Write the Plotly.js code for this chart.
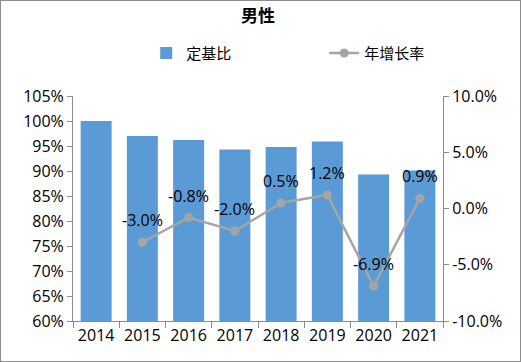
<!DOCTYPE html>
<html>
<head>
<meta charset="utf-8">
<script src="https://cdn.plot.ly/plotly-3.0.1.min.js"></script>
<style>
  html, body { margin: 0; padding: 0; background: #fff; }
  #wrap { position: relative; width: 521px; height: 362px; }
  #chart { width: 521px; height: 362px; }
  #frame { position: absolute; left: 0; top: 0; width: 521px; height: 362px; box-sizing: border-box; border: 1px solid #8c8c8c; pointer-events: none; }
</style>
</head>
<body>
<div id="wrap"><div id="chart"></div><div id="frame"></div></div>
<script>
const years = ['2014', '2015', '2016', '2017', '2018', '2019', '2020', '2021'];
const fixedBaseRatio = [1.000, 0.970, 0.962, 0.943, 0.948, 0.959, 0.893, 0.901];
const growthYears = ['2015', '2016', '2017', '2018', '2019', '2020', '2021'];
const growthRate = [-0.030, -0.008, -0.020, 0.005, 0.012, -0.069, 0.009];
const seriesNames = ['定基比', '年增长率'];
const chartTitle = '男性';
const leftTicks = [0.60, 0.65, 0.70, 0.75, 0.80, 0.85, 0.90, 0.95, 1.00, 1.05];
const rightTicks = [-0.10, -0.05, 0.00, 0.05, 0.10];

const fontFam = '"Open Sans", "Noto Sans CJK SC", sans-serif';
const pct1 = v => (v * 100).toFixed(1) + '%';

const traces = [
  {
    type: 'bar', name: seriesNames[0], x: years, y: fixedBaseRatio,
    marker: { color: '#5B9BD5' }, hoverinfo: 'skip'
  },
  {
    type: 'scatter', mode: 'lines+markers', name: seriesNames[1],
    x: growthYears, y: growthRate, yaxis: 'y2',
    line: { color: '#A5A5A5', width: 2.5 },
    marker: { color: '#A5A5A5', size: 9 },
    cliponaxis: false, hoverinfo: 'skip'
  }
];

const annotations = growthYears.map((yr, i) => ({
  x: years.indexOf(yr), y: growthRate[i], xref: 'x', yref: 'y2',
  text: pct1(growthRate[i]), showarrow: false, yshift: 22,
  font: { family: fontFam, size: 16, color: '#000' }
}));

const axisCol = '#8c8c8c';
const layout = {
  width: 521, height: 362,
  margin: { l: 73, r: 78, t: 96, b: 41 },
  paper_bgcolor: '#fff', plot_bgcolor: '#fff',
  font: { family: fontFam, size: 16, color: '#000' },
  title: { text: '<b>' + chartTitle + '</b>', x: 0.5, xref: 'paper', y: 0.955, yanchor: 'middle',
           font: { family: '"Noto Sans CJK SC", sans-serif', size: 17, color: '#000' } },
  showlegend: true,
  legend: { orientation: 'h', x: 1.16, xanchor: 'right', y: 1.19, yanchor: 'middle',
            font: { family: '"Noto Sans CJK SC", sans-serif', size: 15, color: '#000' },
            entrywidth: 133, entrywidthmode: 'pixels', traceorder: 'normal' },
  annotations: annotations,
  bargap: 0.33,
  xaxis: {
    type: 'category', range: [-0.5, 7.5], showgrid: false, zeroline: false,
    showline: true, linecolor: axisCol, linewidth: 1,
    ticks: 'outside', tickson: 'boundaries', ticklen: 6, tickcolor: axisCol,
    tickfont: { family: fontFam, size: 16, color: '#000' }
  },
  yaxis: {
    range: [0.6, 1.05], tickvals: leftTicks, ticktext: leftTicks.map(v => Math.round(v * 100) + '%'),
    showgrid: false, zeroline: false, showline: true, linecolor: axisCol,
    ticks: 'outside', ticklen: 5, tickcolor: axisCol,
    tickfont: { family: fontFam, size: 16, color: '#000' }
  },
  yaxis2: {
    overlaying: 'y', side: 'right', range: [-0.1, 0.1],
    tickvals: rightTicks, ticktext: rightTicks.map(pct1),
    showgrid: false, zeroline: false, showline: true, linecolor: axisCol,
    ticks: 'outside', ticklen: 5, tickcolor: axisCol,
    tickfont: { family: fontFam, size: 16, color: '#000' }
  }
};

Plotly.newPlot('chart', traces, layout, { displayModeBar: false, staticPlot: true });
</script>
</body>
</html>
